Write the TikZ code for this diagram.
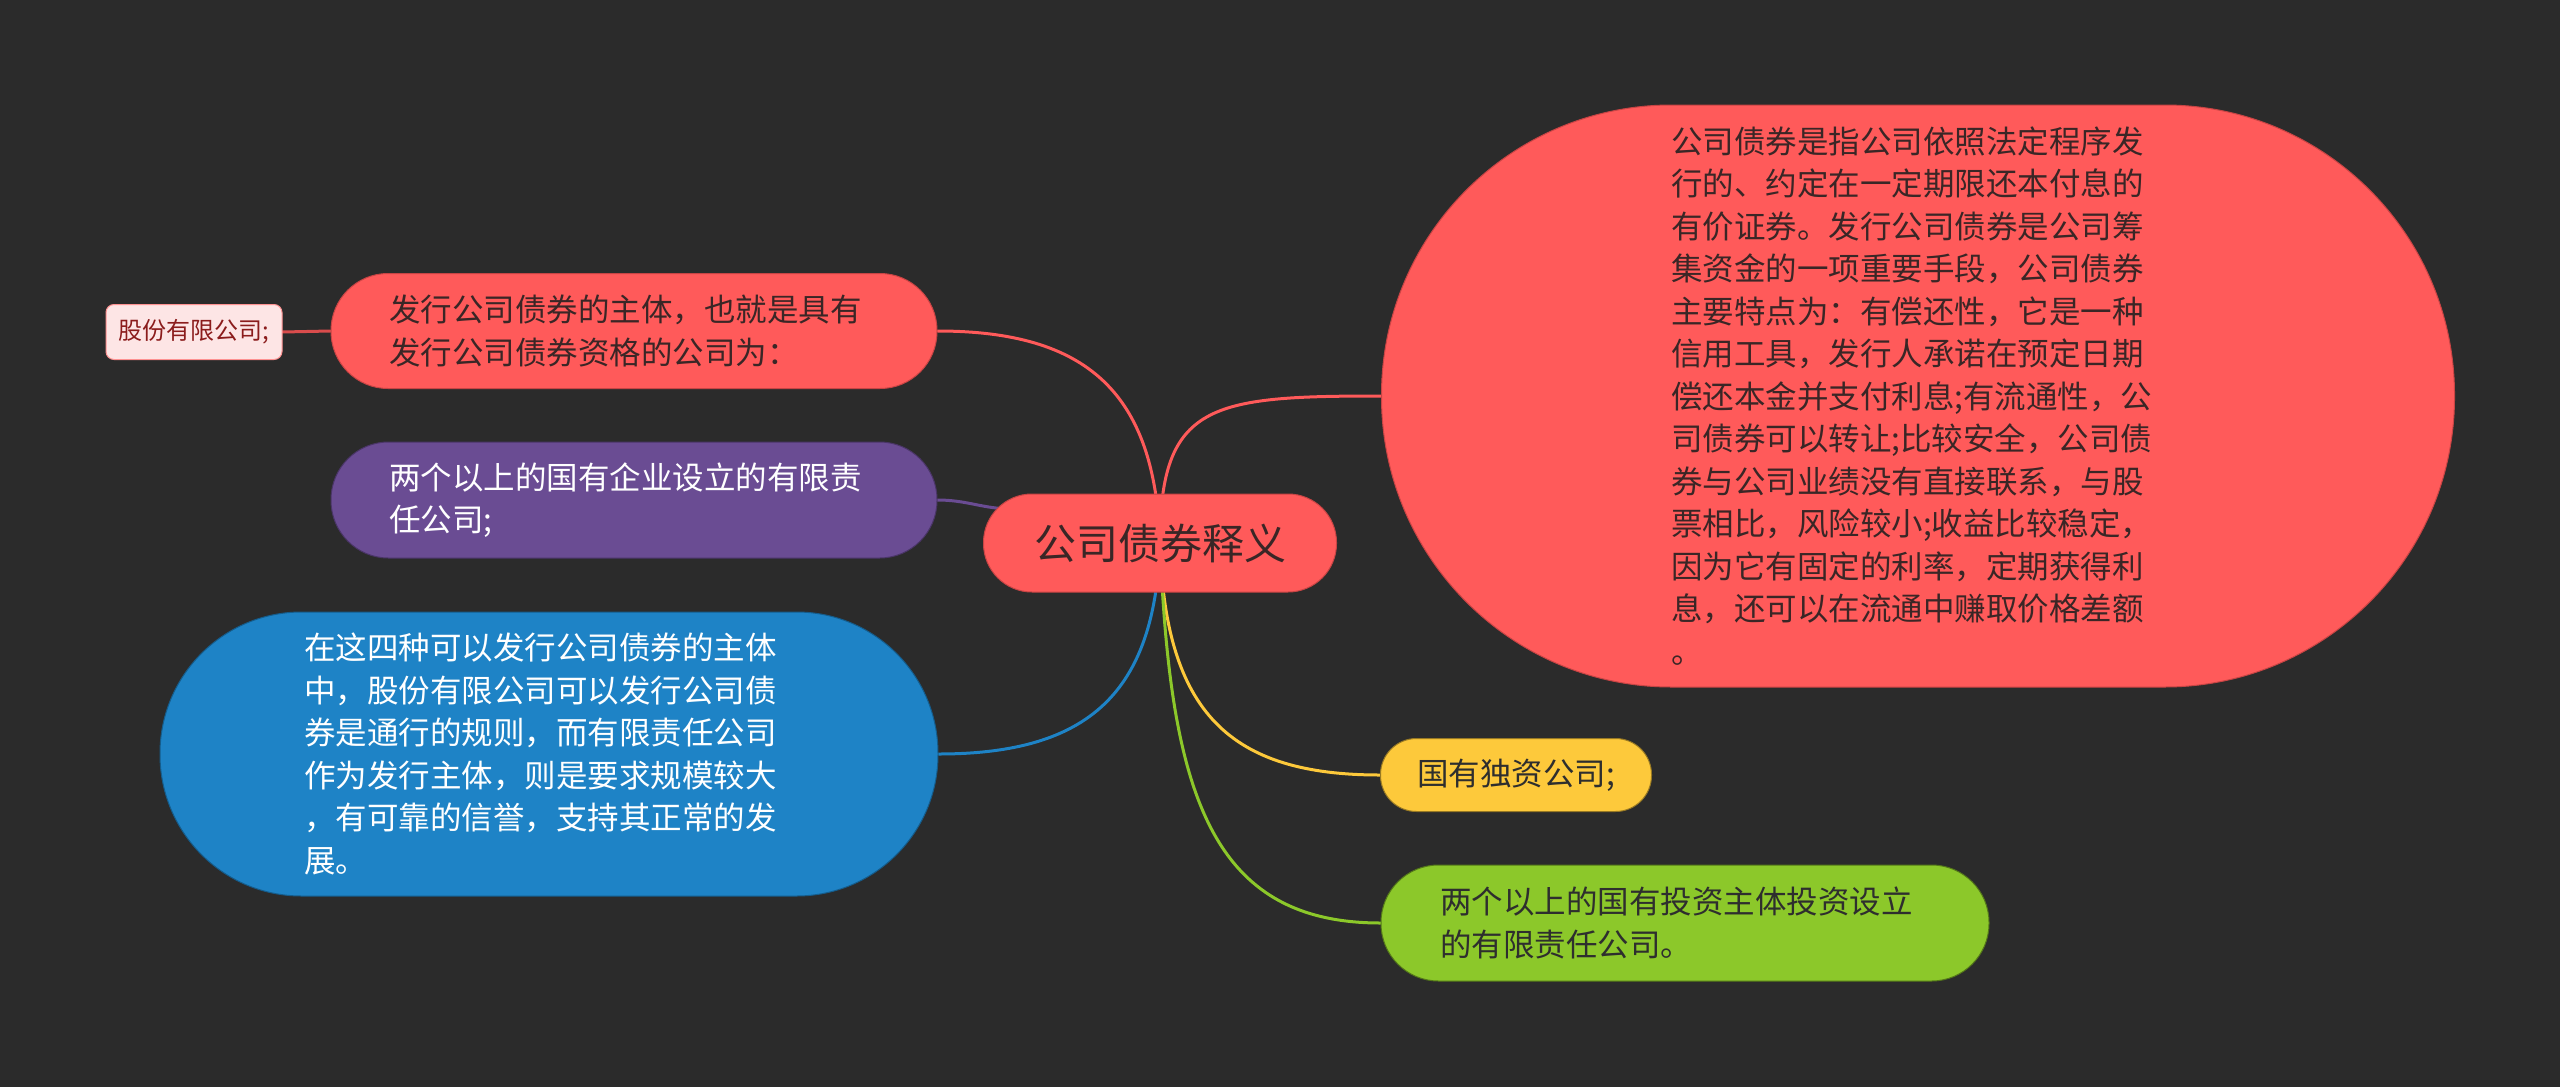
\documentclass[tikz,border=0pt]{standalone}
\usepackage{fontspec}
\setmainfont{Noto Sans CJK SC}
\definecolor{bgc}{HTML}{2B2B2B}
\definecolor{redf}{HTML}{FF5A5A}
\definecolor{redd}{HTML}{C84444}
\definecolor{redt}{HTML}{3A2626}
\definecolor{purf}{HTML}{6A4C93}
\definecolor{bluf}{HTML}{1E83C6}
\definecolor{yelf}{HTML}{FDC93B}
\definecolor{grnf}{HTML}{8CC82A}
\definecolor{pinkf}{HTML}{FDE5E5}
\definecolor{pinkt}{HTML}{8B1C1C}
\definecolor{darkt}{HTML}{2E2E2E}
\pgfdeclarelayer{bgl}
\pgfdeclarelayer{edges}
\pgfsetlayers{bgl,edges,main}
\begin{document}
\begin{tikzpicture}[x=1pt,y=-1pt,
  mm/.style={rectangle, inner sep=0pt, align=left, line width=1pt,
    font=\fontsize{31.5}{42.5}\selectfont},
  conn/.style={line width=3pt, line cap=round}]
\begin{pgfonlayer}{bgl}
\fill[bgc] (0,0) rectangle (2560,1087);
\end{pgfonlayer}
\useasboundingbox (0,0) rectangle (2560,1087);

\node[mm, fill=redf, draw=redd, text=redt, minimum width=353pt, minimum height=98pt,
  rounded corners=48.5pt, font=\fontsize{42}{50}\selectfont] (c) at (1160,543) {公司债券释义};

\node[mm, fill=redf, draw=redd, text=redt, minimum width=1073pt, minimum height=582pt,
  rounded corners=290pt, text width=494pt] (big) at (1918,396) {公司债券是指公司依照法定程序发\\
行的、约定在一定期限还本付息的\\
有价证券。发行公司债券是公司筹\\
集资金的一项重要手段，公司债券\\
主要特点为：有偿还性，它是一种\\
信用工具，发行人承诺在预定日期\\
偿还本金并支付利息;有流通性，公\\
司债券可以转让;比较安全，公司债\\
券与公司业绩没有直接联系，与股\\
票相比，风险较小;收益比较稳定，\\
因为它有固定的利率，定期获得利\\
息，还可以在流通中赚取价格差额\\
。};

\node[mm, fill=redf, draw=redd, text=redt, minimum width=606pt, minimum height=115pt,
  rounded corners=57pt, text width=490pt] (r1) at (634,331) {发行公司债券的主体，也就是具有\\发行公司债券资格的公司为：};

\node[mm, fill=purf, draw=purf!70!black, text=white, minimum width=606pt, minimum height=116pt,
  rounded corners=57.5pt, text width=490pt] (pu) at (634,500) {两个以上的国有企业设立的有限责\\任公司;};

\node[mm, fill=bluf, draw=bluf!70!black, text=white, minimum width=778pt, minimum height=284pt,
  rounded corners=141.5pt, text width=490pt] (bl) at (549,754) {在这四种可以发行公司债券的主体\\
中，股份有限公司可以发行公司债\\
券是通行的规则，而有限责任公司\\
作为发行主体，则是要求规模较大\\
，有可靠的信誉，支持其正常的发\\
展。};

\node[mm, fill=yelf, draw=yelf!60!black, text=darkt, minimum width=271pt, minimum height=73pt,
  rounded corners=36pt] (ye) at (1516,775) {国有独资公司;};

\node[mm, fill=grnf, draw=grnf!60!black, text=darkt, minimum width=608pt, minimum height=116pt,
  rounded corners=57.5pt, text width=490pt] (gr) at (1685,923) {两个以上的国有投资主体投资设立\\的有限责任公司。};

\node[mm, fill=pinkf, draw=redf!60!pinkf, text=pinkt, minimum width=176pt, minimum height=55pt,
  rounded corners=8pt, font=\fontsize{24}{28}\selectfont] (pk) at (194,332) {股份有限公司;};

\begin{pgfonlayer}{edges}
\draw[conn, redf] (c.center) .. controls +(0,-140) and +(-170,0) .. (big.west);
\draw[conn, redf] (c.center) .. controls +(-5,-150) and +(150,0) .. (r1.east);
\draw[conn, purf] (pu.east) .. controls +(30,0) and +(-30,0) .. ([xshift=30pt,yshift=34pt]c.west);
\draw[conn, bluf] (c.center) .. controls +(-5,150) and +(150,0) .. (bl.east);
\draw[conn, yelf] (c.center) .. controls +(5,170) and +(-150,0) .. (ye.west);
\draw[conn, grnf] (c.center) .. controls +(10,250) and +(-170,0) .. (gr.west);
\draw[conn, redf!85!black] (pk.east) -- (r1.west);
\end{pgfonlayer}
\end{tikzpicture}
\end{document}
